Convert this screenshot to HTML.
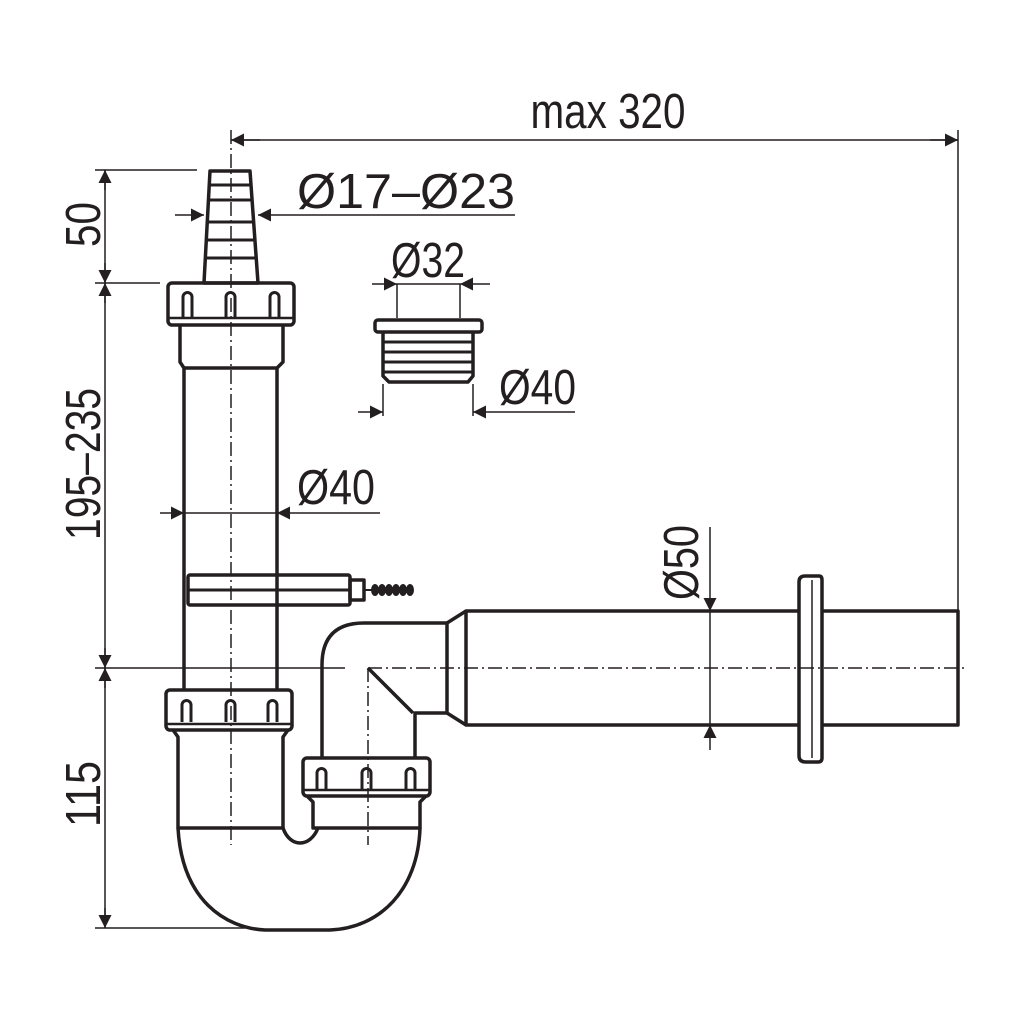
<!DOCTYPE html>
<html><head><meta charset="utf-8"><style>
html,body{margin:0;padding:0;background:#fff}
svg{display:block}
text{font-family:"Liberation Sans",sans-serif;fill:#231f20}
</style></head><body>
<svg width="1024" height="1024" viewBox="0 0 1024 1024" xmlns="http://www.w3.org/2000/svg">
<defs>
<marker id="a" viewBox="0 0 10 10" refX="10" refY="5" markerWidth="24" markerHeight="13" markerUnits="userSpaceOnUse" orient="auto"><path d="M0,0L10,5L0,10z" fill="#231f20"/></marker>
</defs>
<g stroke="#231f20" fill="none">
<g stroke-width="1.5" stroke-dasharray="14,4,2,4">
<line x1="231" y1="130" x2="231" y2="845"/>
<line x1="368" y1="668" x2="965" y2="668"/>
<line x1="368" y1="668" x2="368" y2="845"/>
</g>
<g stroke-width="1.5">
<line x1="105" y1="170" x2="105" y2="928"/>
<line x1="95" y1="170" x2="197" y2="170"/>
<line x1="95" y1="283" x2="160" y2="283"/>
<line x1="95" y1="668" x2="345" y2="668"/>
<line x1="95" y1="928" x2="245" y2="928"/>
<line x1="958" y1="130" x2="958" y2="612"/>
<line x1="231" y1="140" x2="958" y2="140"/>
<line x1="260" y1="140" x2="231" y2="140" marker-end="url(#a)"/>
<line x1="930" y1="140" x2="958" y2="140" marker-end="url(#a)"/>
<line x1="175" y1="215" x2="204" y2="215" marker-end="url(#a)"/>
<line x1="515" y1="215" x2="258" y2="215" marker-end="url(#a)"/>
<line x1="372" y1="284" x2="397" y2="284" marker-end="url(#a)"/>
<line x1="490" y1="284" x2="460" y2="284" marker-end="url(#a)"/>
<line x1="397" y1="284" x2="460" y2="284"/>
<line x1="397" y1="284" x2="397" y2="318"/>
<line x1="460" y1="284" x2="460" y2="318"/>
<line x1="358" y1="412" x2="383" y2="412" marker-end="url(#a)"/>
<line x1="575" y1="412" x2="473" y2="412" marker-end="url(#a)"/>
<line x1="383" y1="384" x2="383" y2="416"/>
<line x1="473" y1="384" x2="473" y2="416"/>
<line x1="160" y1="513" x2="184" y2="513" marker-end="url(#a)"/>
<line x1="380" y1="513" x2="277" y2="513" marker-end="url(#a)"/>
<line x1="184" y1="513" x2="277" y2="513"/>
<line x1="710" y1="527" x2="710" y2="611" marker-end="url(#a)"/>
<line x1="710" y1="750" x2="710" y2="725" marker-end="url(#a)"/>
<line x1="710" y1="611" x2="710" y2="725"/>
<line x1="105" y1="190" x2="105" y2="170" marker-end="url(#a)"/>
<line x1="105" y1="263" x2="105" y2="283" marker-end="url(#a)"/>
<line x1="105" y1="303" x2="105" y2="283" marker-end="url(#a)"/>
<line x1="105" y1="648" x2="105" y2="668" marker-end="url(#a)"/>
<line x1="105" y1="688" x2="105" y2="668" marker-end="url(#a)"/>
<line x1="105" y1="908" x2="105" y2="928" marker-end="url(#a)"/>
</g>

<g stroke-width="3.5" stroke-linejoin="round">
<path d="M210,171 L250,171 L258,283 L204,283 Z"/>
<g stroke-width="3">
<line x1="209" y1="185" x2="251" y2="185"/>
<line x1="208" y1="200" x2="252" y2="200"/>
<line x1="207" y1="222" x2="253" y2="222"/>
<line x1="206" y1="240" x2="255" y2="240"/>
<line x1="205" y1="258" x2="256" y2="258"/>
</g>
<rect x="168" y="283" width="126" height="42" rx="4"/>
<line x1="168" y1="318" x2="294" y2="318" stroke-width="2.5"/>
<path d="M183,317 V297 a4,4 0 0 1 9,0 V317 M226,317 V297 a4,4 0 0 1 9,0 V317 M270,317 V297 a4,4 0 0 1 9,0 V317" stroke-width="3"/>
<path d="M180,325 V362 L184,368 H277 L283,362 V325"/>
<line x1="184" y1="368" x2="184" y2="690"/>
<line x1="277" y1="368" x2="277" y2="690"/>
<rect x="188" y="575" width="162" height="30" rx="2"/>
<line x1="188" y1="590" x2="350" y2="590" stroke-width="3"/>
<rect x="350" y="580" width="14" height="20"/>
<line x1="364" y1="590" x2="372" y2="590" stroke-width="2"/>
<g fill="#231f20" stroke="none">
<ellipse cx="375" cy="590" rx="4" ry="6"/>
<ellipse cx="382" cy="590" rx="4" ry="6"/>
<ellipse cx="389" cy="590" rx="4" ry="6"/>
<ellipse cx="396" cy="590" rx="4" ry="6"/>
<ellipse cx="403" cy="590" rx="4" ry="6"/>
<ellipse cx="410" cy="590" rx="4" ry="6"/>
</g>
<rect x="166" y="690" width="126" height="40" rx="4"/>
<line x1="166" y1="724" x2="292" y2="724" stroke-width="2.5"/>
<path d="M182,722 V705 a4,4 0 0 1 9,0 V722 M226,722 V705 a4,4 0 0 1 9,0 V722 M268,722 V705 a4,4 0 0 1 9,0 V722" stroke-width="3"/>
<path d="M173,730 L178,737 V828 H283 V737 L288,730"/>
<path d="M178,828 C182,900 225,928 265,930 H330 C380,928 418,890 420,828"/>
<path d="M283,828 C290,848 310,848 318,828"/>
<path d="M322,758 V665 Q322,623 364,623 H447 V713 H415 V758"/>
<line x1="368" y1="668" x2="413" y2="713"/>
<rect x="303" y="758" width="127" height="38" rx="4"/>
<line x1="303" y1="790" x2="430" y2="790" stroke-width="2.5"/>
<path d="M317,790 V773 a4,4 0 0 1 9,0 V790 M362,790 V773 a4,4 0 0 1 9,0 V790 M406,790 V773 a4,4 0 0 1 9,0 V790" stroke-width="3"/>
<path d="M307,796 L313,802 V828 H420 V802 L426,796"/>
<path d="M447,623 L466,611 H799 M822,611 H958 V725 H822 M799,725 H466 L447,713"/>
<line x1="466" y1="611" x2="466" y2="725"/>
<path d="M805,576 H819 Q822,576 822,580 V758 Q822,762 818,762 H806 Q799,762 799,756 V582 Q799,576 805,576 Z"/>
<line x1="812" y1="580" x2="812" y2="758" stroke-width="1.5"/>
<rect x="375" y="320" width="107" height="12" rx="3"/>
<path d="M383,332 V376 L389,382 H468 L473,376 V332"/>
<g stroke-width="3">
<line x1="383" y1="342" x2="473" y2="342"/>
<line x1="383" y1="352" x2="473" y2="352"/>
<line x1="383" y1="362" x2="473" y2="362"/>
<line x1="383" y1="372" x2="473" y2="372"/>
</g>
</g>
</g>
<g font-size="49">
<text x="608" y="128" text-anchor="middle" textLength="155" lengthAdjust="spacingAndGlyphs">max 320</text>
<text x="297" y="208" textLength="218" lengthAdjust="spacingAndGlyphs">Ø17–Ø23</text>
<text x="391" y="277" textLength="74" lengthAdjust="spacingAndGlyphs">Ø32</text>
<text x="499" y="404" textLength="77" lengthAdjust="spacingAndGlyphs">Ø40</text>
<text x="297" y="504" textLength="78" lengthAdjust="spacingAndGlyphs">Ø40</text>
<text transform="translate(698,600) rotate(-90)" textLength="75" lengthAdjust="spacingAndGlyphs">Ø50</text>
<text transform="translate(100,247) rotate(-90)" textLength="45" lengthAdjust="spacingAndGlyphs">50</text>
<text transform="translate(100,540) rotate(-90)" textLength="152" lengthAdjust="spacingAndGlyphs">195–235</text>
<text transform="translate(100,827) rotate(-90)" textLength="66" lengthAdjust="spacingAndGlyphs">115</text>
</g>
</svg>
</body></html>
